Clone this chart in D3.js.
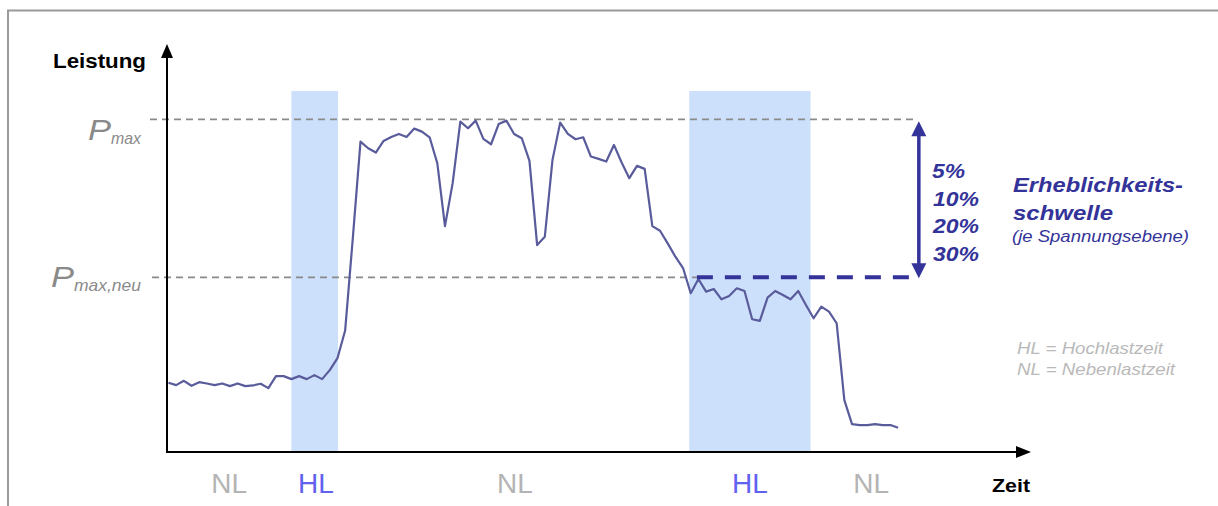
<!DOCTYPE html>
<html>
<head>
<meta charset="utf-8">
<script src="https://cdn.jsdelivr.net/npm/d3@7"></script>
<style>
  html, body { margin: 0; padding: 0; background: #fff; overflow: hidden; }
  svg { display: block; font-family: "Liberation Sans", Arial, sans-serif; }
</style>
</head>
<body>
<div id="viz"></div>
<script>
// load curve (percent of Pmax), one value per time step
const load = [
  20.8, 20.1, 21.4, 19.9, 21.0, 20.6, 20.1, 20.6, 19.8, 20.6,
  19.8, 20.0, 20.5, 19.2, 22.8, 22.8, 21.9, 22.8, 21.9, 23.1,
  21.9, 24.6, 28.2, 36.5, 64.3, 93.3, 91.3, 90.0, 93.5, 94.7,
  95.6, 94.7, 97.2, 96.3, 94.6, 86.8, 67.9, 80.8, 99.3, 97.3,
  99.6, 94.1, 92.5, 98.6, 99.6, 95.6, 94.3, 87.5, 62.2, 64.7,
  87.8, 99.0, 95.6, 94.0, 94.6, 88.8, 88.1, 87.3, 92.3, 87.0,
  82.3, 86.0, 85.1, 67.9, 66.5, 62.7, 58.7, 55.3, 47.7, 52.0,
  48.2, 49.0, 45.9, 46.9, 49.2, 48.4, 39.9, 39.4, 46.4, 48.4,
  47.2, 45.9, 48.4, 44.2, 40.2, 43.7, 42.2, 38.7, 15.6, 8.4,
  8.1, 8.1, 8.4, 8.1, 8.1, 7.3
];

// high-load windows (time steps)
const hlStart = [16, 67.8];
const hlEnd = [22.07, 83.6];

// period labels below the time axis
const periodNames = ["NL", "HL", "NL", "HL", "NL"];
const periodAt = [7.9, 19.2, 45.1, 75.7, 91.5];

const pMax = 100;
const pMaxNeu = 52.5;
const thresholds = ["5%", "10%", "20%", "30%"];
const legendLines = ["HL = Hochlastzeit", "NL = Nebenlastzeit"];

const width = 1218, height = 506;
const LINE = "#595b9b";
const DARK = "#333399";
const BAND = "#cce0fb";
const GREY = "#8a8a8a";

const svg = d3.select("#viz").append("svg")
  .attr("width", width)
  .attr("height", height);

// frame, only top and left edges are visible in the crop
svg.append("rect")
  .attr("x", 8).attr("y", 10.5)
  .attr("width", 1400).attr("height", 700)
  .attr("fill", "none").attr("stroke", "#9a9a9a").attr("stroke-width", 2);

const x = d3.scaleLinear().domain([0, 112]).range([168.5, 168.5 + 7.68 * 112]);
const y = d3.scaleLinear().domain([0, 100]).range([452, 119.3]);

// helper: text stretched to a given width (the source art is wider than the font)
function label(txt, px, py, size, w, opts = {}) {
  const t = svg.append("text")
    .attr("x", px).attr("y", py)
    .attr("font-size", size)
    .attr("text-anchor", opts.anchor || "start")
    .attr("font-weight", opts.bold ? "bold" : null)
    .attr("font-style", opts.italic ? "italic" : null)
    .attr("fill", opts.fill || "#000")
    .text(txt);
  if (w) t.attr("textLength", w).attr("lengthAdjust", "spacingAndGlyphs");
  return t;
}

// HL bands
svg.append("g").selectAll("rect")
  .data(hlStart)
  .join("rect")
  .attr("x", d => x(d))
  .attr("width", (d, i) => x(hlEnd[i]) - x(d))
  .attr("y", y(108.5))
  .attr("height", y(0) - y(108.5))
  .attr("fill", BAND);

// reference lines
svg.append("line")
  .attr("x1", 150).attr("x2", x(97.2))
  .attr("y1", y(pMax)).attr("y2", y(pMax))
  .attr("stroke", GREY).attr("stroke-width", 1.8).attr("stroke-dasharray", "7,5");
svg.append("line")
  .attr("x1", 152).attr("x2", x(68.8))
  .attr("y1", y(pMaxNeu)).attr("y2", y(pMaxNeu))
  .attr("stroke", GREY).attr("stroke-width", 1.8).attr("stroke-dasharray", "7,5");

// load curve
svg.append("path")
  .datum(load)
  .attr("fill", "none")
  .attr("stroke", LINE)
  .attr("stroke-width", 2.2)
  .attr("stroke-linejoin", "round")
  .attr("d", d3.line().x((d, i) => x(i)).y(d => y(d)));

// new threshold line
svg.append("line")
  .attr("x1", x(68.8)).attr("x2", x(96.5))
  .attr("y1", y(pMaxNeu)).attr("y2", y(pMaxNeu))
  .attr("stroke", DARK).attr("stroke-width", 4).attr("stroke-dasharray", "16,12");

// axes with arrowheads
const axisG = svg.append("g");
const x0 = 167, yBase = y(0);
axisG.append("line").attr("x1", x0).attr("x2", x0).attr("y1", yBase + 1).attr("y2", 56)
  .attr("stroke", "#000").attr("stroke-width", 2);
axisG.append("path").attr("d", `M${x0},44 L${x0 - 6},58 L${x0 + 6},58 Z`).attr("fill", "#000");
axisG.append("line").attr("x1", x0 - 1).attr("x2", 1018).attr("y1", yBase).attr("y2", yBase)
  .attr("stroke", "#000").attr("stroke-width", 2);
axisG.append("path").attr("d", `M1031,${yBase} L1016,${yBase - 6} L1016,${yBase + 6} Z`).attr("fill", "#000");

label("Leistung", 146, 68, 20, 93, { anchor: "end", bold: true });
label("Zeit", 1030, 492, 19, 38, { anchor: "end", bold: true });

// P labels: big P plus subscript
function pLabel(sub, subW, baseY) {
  label(sub, 141, baseY + 4, 16.5, subW, { anchor: "end", italic: true, fill: GREY });
  label("P", 141 - subW, baseY, 29, 23, { anchor: "end", italic: true, fill: GREY });
}
pLabel("max", 30, y(pMax) + 21);
pLabel("max,neu", 67, y(pMaxNeu) + 10);

// period labels
svg.append("g").selectAll("text")
  .data(periodNames)
  .join("text")
  .attr("x", (d, i) => x(periodAt[i]))
  .attr("y", 493)
  .attr("text-anchor", "middle")
  .attr("font-size", 28)
  .attr("fill", d => d === "HL" ? "#6161f0" : "#b4b4b4")
  .text(d => d);

// double arrow between Pmax and Pmax,neu
const ax = x(97.7);
const a1 = y(pMax) + 2, a2 = y(pMaxNeu) + 1;
svg.append("line").attr("x1", ax).attr("x2", ax).attr("y1", a1 + 12).attr("y2", a2 - 12)
  .attr("stroke", DARK).attr("stroke-width", 3.5);
svg.append("path").attr("d", `M${ax},${a1} L${ax - 7.5},${a1 + 15} L${ax + 7.5},${a1 + 15} Z`).attr("fill", DARK);
svg.append("path").attr("d", `M${ax},${a2} L${ax - 7.5},${a2 - 15} L${ax + 7.5},${a2 - 15} Z`).attr("fill", DARK);

svg.append("g").selectAll("text")
  .data(thresholds)
  .join("text")
  .attr("x", (d, i) => i === 0 ? 932 : 933)
  .attr("y", (d, i) => 178 + i * 27.5)
  .attr("font-size", 19.5).attr("font-weight", "bold").attr("font-style", "italic")
  .attr("fill", DARK)
  .attr("textLength", d => d.length === 2 ? 33 : 46)
  .attr("lengthAdjust", "spacingAndGlyphs")
  .text(d => d);

// annotation
label("Erheblichkeits-", 1013, 192, 21, 170, { bold: true, italic: true, fill: DARK });
label("schwelle", 1013, 220, 21, 100, { bold: true, italic: true, fill: DARK });
label("(je Spannungsebene)", 1012, 242, 17, 177, { italic: true, fill: DARK });

svg.append("g").selectAll("text")
  .data(legendLines)
  .join("text")
  .attr("x", 1017)
  .attr("y", (d, i) => 354 + i * 21)
  .attr("font-size", 16.5).attr("font-style", "italic")
  .attr("fill", "#b9b9b9")
  .attr("textLength", (d, i) => i === 0 ? 146 : 158)
  .attr("lengthAdjust", "spacingAndGlyphs")
  .text(d => d);
</script>
</body>
</html>
